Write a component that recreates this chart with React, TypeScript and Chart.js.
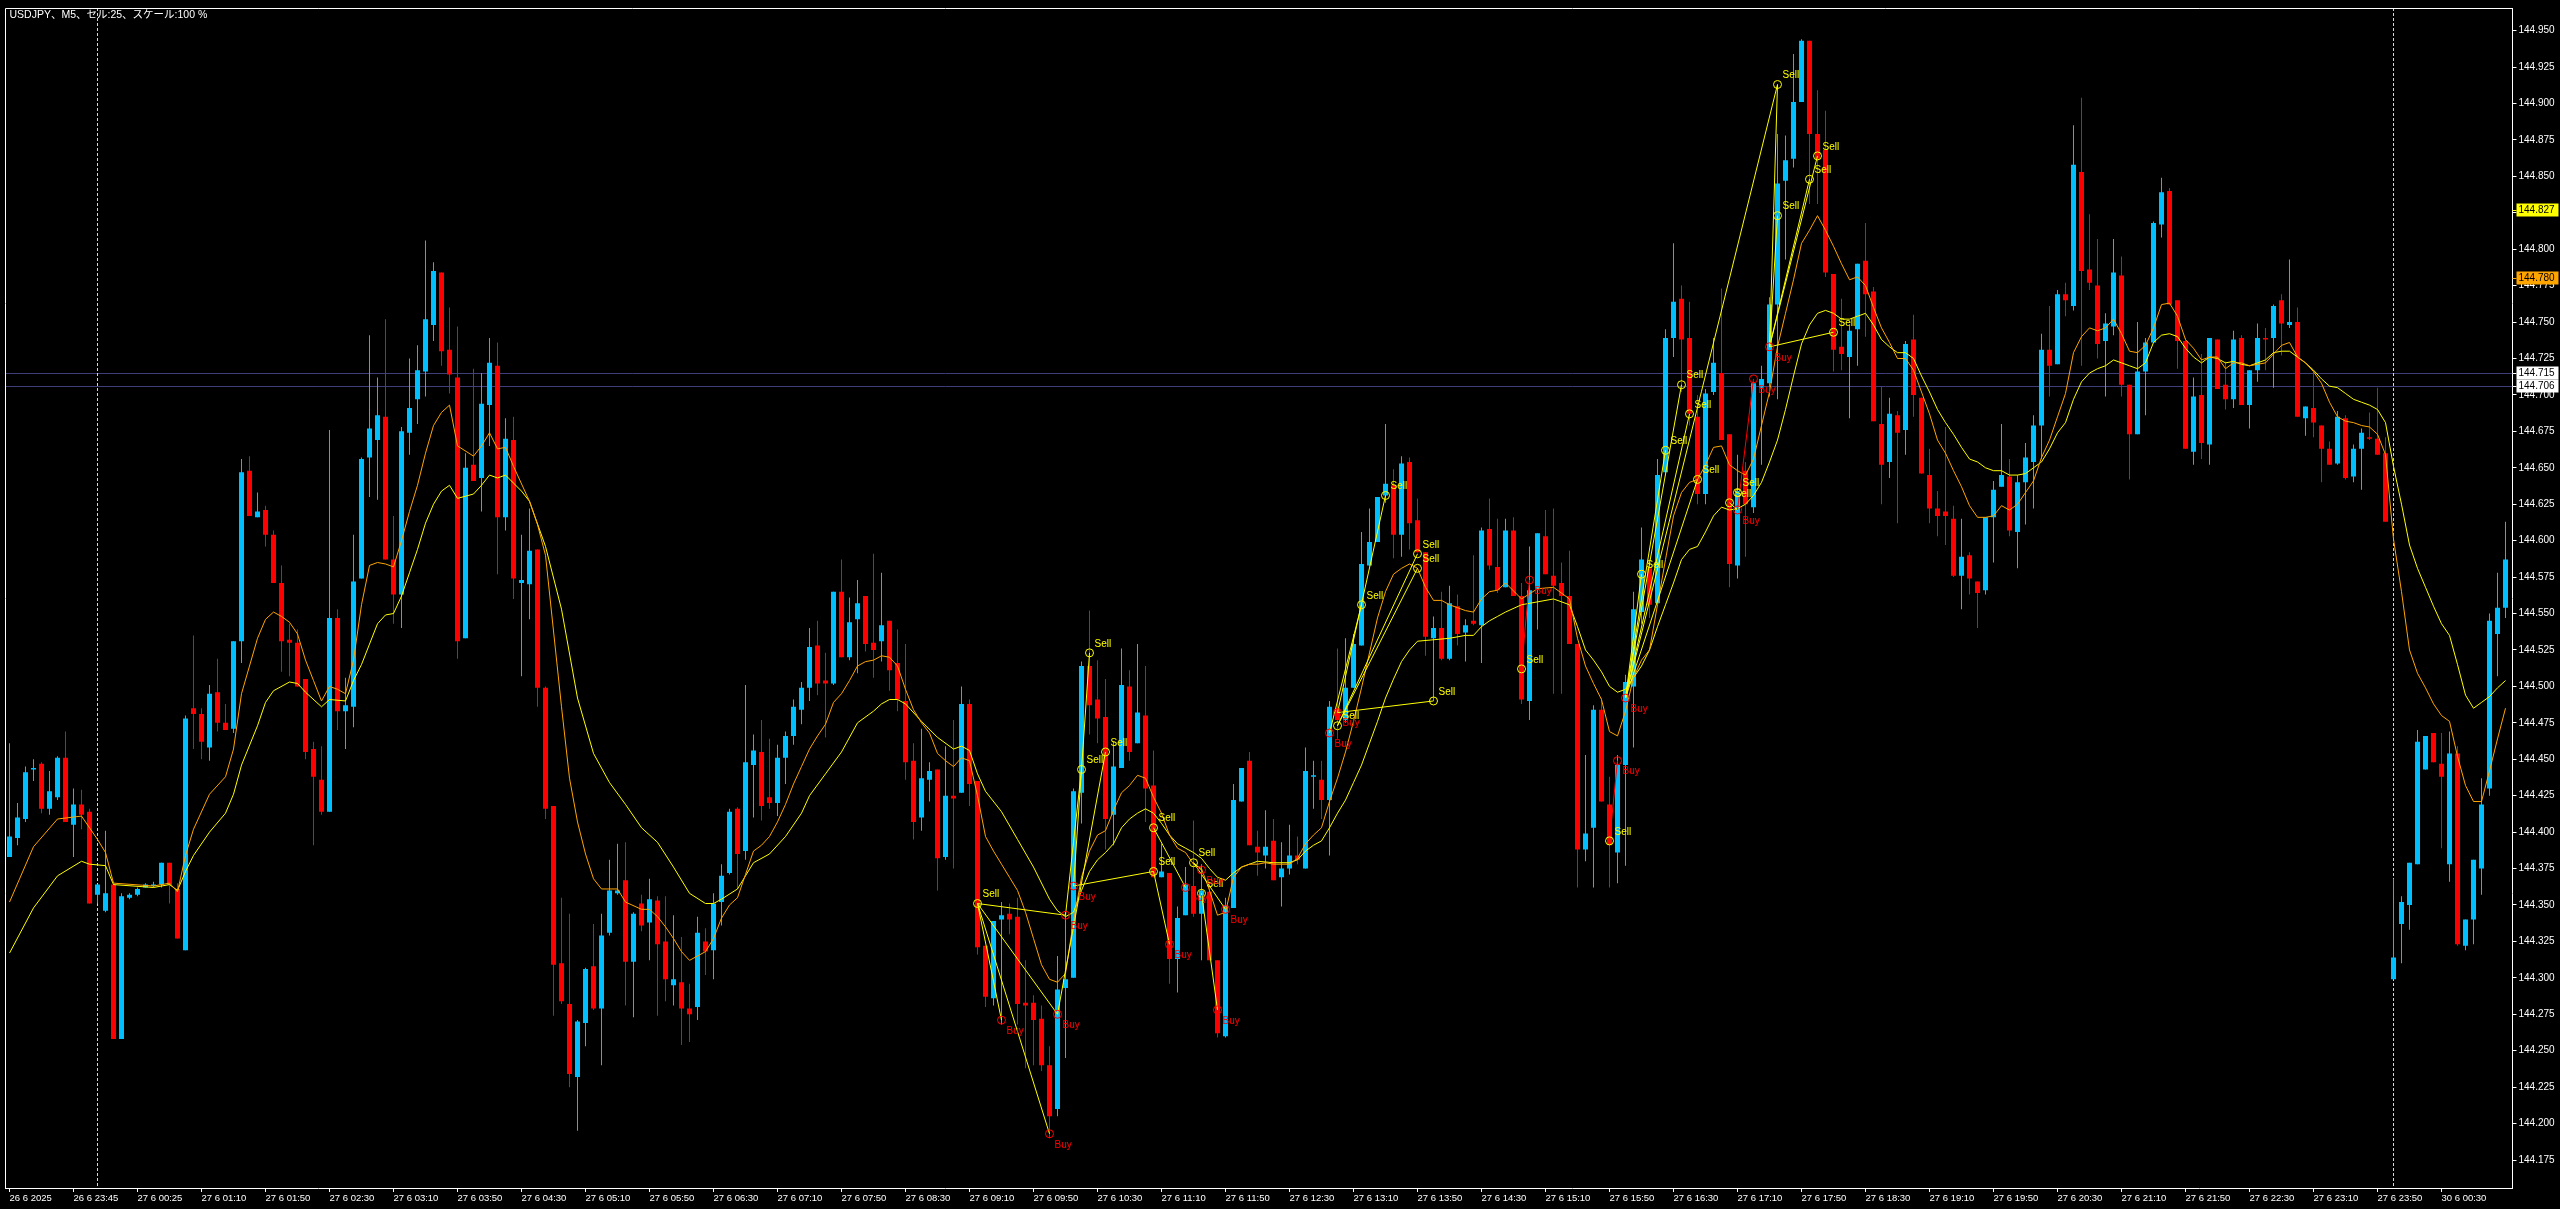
import React, { useEffect, useRef } from "react";
import { Chart, registerables } from "chart.js";

Chart.register(...registerables);

// ---------- data ----------
const opens = [
  144.383,144.396,144.409,144.443,144.447,144.416,144.424,144.451,144.405,144.419,
  144.414,144.357,144.346,144.364,144.258,144.355,144.357,144.362,144.363,144.364,
  144.379,144.361,144.319,144.485,144.481,144.458,144.496,144.475,144.471,144.531,
  144.648,144.616,144.621,144.604,144.571,144.532,144.530,144.505,144.457,144.436,
  144.414,144.547,144.483,144.486,144.574,144.657,144.669,144.685,144.587,144.563,
  144.674,144.697,144.716,144.748,144.784,144.731,144.712,144.533,144.652,144.643,
  144.693,144.720,144.616,144.669,144.571,144.570,144.594,144.499,144.418,144.310,
  144.282,144.232,144.269,144.308,144.279,144.331,144.358,144.367,144.311,144.351,
  144.338,144.353,144.325,144.295,144.297,144.279,144.280,144.325,144.319,144.352,
  144.372,144.416,144.387,144.446,144.455,144.424,144.420,144.451,144.466,144.484,
  144.499,144.528,144.504,144.502,144.565,144.520,144.546,144.562,144.530,144.531,
  144.545,144.516,144.490,144.449,144.410,144.436,144.443,144.383,144.425,144.427,
  144.488,144.435,144.322,144.286,144.340,144.344,144.342,144.283,144.283,144.272,
  144.240,144.210,144.293,144.300,144.427,144.514,144.491,144.479,144.412,144.444,
  144.500,144.461,144.480,144.432,144.369,144.372,144.313,144.343,144.363,144.344,
  144.359,144.312,144.260,144.348,144.421,144.449,144.390,144.384,144.394,144.369,
  144.375,144.384,144.375,144.438,144.436,144.422,144.485,144.477,144.499,144.528,
  144.583,144.599,144.631,144.638,144.604,144.654,144.614,144.592,144.533,144.540,
  144.519,144.555,144.537,144.545,144.542,144.608,144.582,144.568,144.607,144.562,
  144.490,144.567,144.603,144.576,144.571,144.562,144.529,144.388,144.403,144.484,
  144.419,144.386,144.446,144.500,144.551,144.581,144.557,144.647,144.739,144.766,
  144.739,144.685,144.632,144.702,144.715,144.673,144.583,144.648,144.623,144.705,
  144.708,144.762,144.847,144.862,144.901,144.943,144.879,144.868,144.783,144.733,
  144.726,144.745,144.792,144.771,144.680,144.654,144.686,144.676,144.738,144.698,
  144.645,144.622,144.620,144.615,144.576,144.590,144.572,144.566,144.616,144.637,
  144.644,144.606,144.640,144.654,144.679,144.731,144.721,144.769,144.761,144.853,
  144.786,144.775,144.737,144.747,144.782,144.707,144.673,144.716,144.736,144.817,
  144.840,144.765,144.737,144.661,144.700,144.666,144.738,144.707,144.697,144.739,
  144.693,144.717,144.739,144.739,144.765,144.748,144.750,144.684,144.691,144.679,
  144.663,144.653,144.684,144.644,144.663,144.671,144.670,144.660,144.299,144.337,
  144.350,144.378,144.443,144.468,144.447,144.378,144.454,144.322,144.340,144.375,
  144.430,144.536,144.554,
];

const highs = [
  144.461,144.420,144.445,144.450,144.448,144.442,144.452,144.469,144.430,144.429,
  144.416,144.364,144.401,144.364,144.358,144.358,144.362,144.365,144.366,144.379,
  144.379,144.365,144.480,144.535,144.485,144.501,144.519,144.488,144.531,144.656,
  144.658,144.633,144.624,144.607,144.583,144.543,144.539,144.505,144.462,144.459,
  144.676,144.553,144.506,144.604,144.657,144.741,144.712,144.752,144.617,144.678,
  144.725,144.734,144.806,144.791,144.784,144.760,144.747,144.660,144.718,144.715,
  144.739,144.736,144.684,144.685,144.604,144.622,144.594,144.500,144.418,144.355,
  144.344,144.271,144.307,144.337,144.344,144.381,144.392,144.393,144.345,144.357,
  144.368,144.356,144.356,144.343,144.328,144.296,144.342,144.334,144.358,144.378,
  144.416,144.417,144.501,144.467,144.477,144.464,144.460,144.469,144.491,144.503,
  144.540,144.545,144.523,144.565,144.587,144.561,144.573,144.562,144.591,144.578,
  144.545,144.539,144.529,144.461,144.471,144.448,144.443,144.459,144.477,144.500,
  144.491,144.435,144.322,144.339,144.352,144.351,144.355,144.312,144.288,144.281,
  144.253,144.315,144.345,144.430,144.517,144.552,144.518,144.505,144.462,144.526,
  144.511,144.529,144.514,144.456,144.392,144.372,144.349,144.376,144.408,144.378,
  144.366,144.312,144.355,144.433,144.444,144.455,144.401,144.415,144.409,144.393,
  144.405,144.397,144.458,144.449,144.449,144.490,144.526,144.533,144.536,144.606,
  144.622,144.630,144.680,144.649,144.658,144.657,144.629,144.592,144.548,144.565,
  144.569,144.563,144.546,144.590,144.609,144.629,144.615,144.615,144.616,144.571,
  144.596,144.605,144.621,144.622,144.585,144.593,144.529,144.453,144.487,144.492,
  144.438,144.453,144.508,144.565,144.609,144.587,144.656,144.745,144.804,144.775,
  144.764,144.700,144.704,144.739,144.773,144.673,144.659,144.654,144.709,144.720,
  144.767,144.879,144.878,144.934,144.944,144.943,144.909,144.895,144.783,144.766,
  144.748,144.790,144.818,144.774,144.706,144.698,144.689,144.737,144.755,144.698,
  144.663,144.634,144.678,144.624,144.615,144.592,144.572,144.616,144.641,144.680,
  144.656,144.645,144.667,144.686,144.742,144.761,144.772,144.777,144.885,144.904,
  144.824,144.807,144.756,144.807,144.795,144.707,144.750,144.739,144.819,144.849,
  144.842,144.765,144.739,144.712,144.728,144.739,144.738,144.723,144.744,144.741,
  144.717,144.749,144.746,144.762,144.769,144.793,144.760,144.692,144.716,144.679,
  144.668,144.689,144.686,144.666,144.677,144.688,144.705,144.671,144.368,144.356,
  144.379,144.470,144.466,144.468,144.468,144.469,144.459,144.340,144.381,144.437,
  144.550,144.578,144.613,
];

const lows = [
  144.383,144.391,144.407,144.435,144.413,144.412,144.422,144.407,144.383,144.402,
  144.351,144.351,144.345,144.258,144.258,144.354,144.356,144.362,144.362,144.362,
  144.351,144.327,144.319,144.457,144.450,144.449,144.469,144.470,144.468,144.516,
  144.617,144.616,144.596,144.571,144.510,144.507,144.500,144.450,144.391,144.412,
  144.414,144.470,144.457,144.472,144.574,144.630,144.628,144.587,144.543,144.540,
  144.659,144.680,144.699,144.737,144.720,144.701,144.519,144.533,144.641,144.620,
  144.665,144.577,144.607,144.560,144.507,144.546,144.486,144.409,144.274,144.282,
  144.225,144.195,144.253,144.278,144.240,144.329,144.357,144.281,144.273,144.332,
  144.312,144.274,144.284,144.281,144.254,144.256,144.271,144.302,144.299,144.336,
  144.371,144.361,144.381,144.410,144.408,144.416,144.411,144.433,144.460,144.474,
  144.490,144.494,144.465,144.501,144.520,144.518,144.509,144.524,144.506,144.517,
  144.497,144.483,144.436,144.395,144.401,144.421,144.360,144.381,144.375,144.427,
  144.418,144.316,144.280,144.281,144.268,144.330,144.268,144.238,144.240,144.236,
  144.190,144.205,144.245,144.300,144.406,144.467,144.461,144.388,144.391,144.444,
  144.449,144.461,144.407,144.369,144.369,144.296,144.290,144.343,144.342,144.312,
  144.312,144.259,144.259,144.348,144.421,144.391,144.370,144.375,144.367,144.349,
  144.371,144.378,144.375,144.416,144.409,144.384,144.464,144.475,144.499,144.528,
  144.583,144.599,144.626,144.588,144.589,144.594,144.592,144.521,144.490,144.518,
  144.518,144.528,144.517,144.542,144.516,144.580,144.564,144.568,144.562,144.488,
  144.477,144.539,144.577,144.495,144.495,144.529,144.362,144.380,144.362,144.421,
  144.362,144.365,144.377,144.458,144.543,144.547,144.557,144.647,144.726,144.702,
  144.679,144.625,144.625,144.700,144.669,144.568,144.574,144.589,144.619,144.652,
  144.699,144.697,144.793,144.856,144.901,144.831,144.831,144.781,144.716,144.717,
  144.684,144.720,144.740,144.682,144.625,144.643,144.612,144.659,144.685,144.646,
  144.612,144.603,144.597,144.575,144.553,144.563,144.540,144.563,144.585,144.637,
  144.603,144.581,144.611,144.622,144.656,144.699,144.721,144.754,144.758,144.720,
  144.772,144.725,144.699,144.741,144.699,144.642,144.673,144.686,144.736,144.808,
  144.762,144.718,144.663,144.652,144.656,144.652,144.704,144.690,144.691,144.693,
  144.677,144.709,144.717,144.705,144.727,144.746,144.685,144.672,144.671,144.640,
  144.652,144.652,144.642,144.640,144.635,144.669,144.659,144.613,144.299,144.310,
  144.333,144.378,144.443,144.448,144.389,144.366,144.322,144.319,144.323,144.357,
  144.425,144.507,144.547,
];

const closes = [
  144.397,144.410,144.441,144.444,144.416,144.428,144.451,144.407,144.419,144.412,
  144.351,144.364,144.358,144.258,144.356,144.357,144.361,144.364,144.364,144.379,
  144.364,144.327,144.478,144.481,144.462,144.495,144.475,144.470,144.531,144.647,
  144.617,144.620,144.604,144.571,144.531,144.530,144.500,144.455,144.438,144.414,
  144.547,144.483,144.487,144.572,144.656,144.677,144.686,144.587,144.563,144.675,
  144.691,144.717,144.752,144.785,144.730,144.714,144.531,144.650,144.641,144.694,
  144.722,144.616,144.670,144.574,144.573,144.593,144.499,144.416,144.309,144.284,
  144.234,144.270,144.306,144.279,144.329,144.360,144.360,144.311,144.344,144.336,
  144.354,144.323,144.299,144.299,144.279,144.275,144.331,144.318,144.351,144.370,
  144.414,144.385,144.448,144.456,144.418,144.420,144.451,144.466,144.486,144.499,
  144.527,144.502,144.502,144.565,144.520,144.544,144.557,144.529,144.525,144.542,
  144.511,144.491,144.448,144.407,144.437,144.442,144.382,144.425,144.423,144.488,
  144.433,144.321,144.287,144.339,144.343,144.340,144.282,144.281,144.271,144.240,
  144.205,144.292,144.299,144.428,144.514,144.487,144.478,144.409,144.445,144.501,
  144.455,144.482,144.430,144.369,144.373,144.313,144.341,144.364,144.344,144.360,
  144.312,144.262,144.350,144.422,144.444,144.391,144.386,144.390,144.367,144.375,
  144.384,144.381,144.442,144.439,144.422,144.486,144.477,144.499,144.529,144.584,
  144.599,144.630,144.639,144.604,144.653,144.612,144.592,144.534,144.540,144.519,
  144.557,144.536,144.542,144.543,144.607,144.583,144.566,144.607,144.562,144.491,
  144.566,144.605,144.577,144.569,144.562,144.529,144.388,144.399,144.484,144.421,
  144.391,144.446,144.503,144.553,144.587,144.556,144.645,144.739,144.764,144.738,
  144.687,144.632,144.701,144.722,144.669,144.584,144.634,144.625,144.708,144.711,
  144.762,144.845,144.861,144.901,144.943,144.879,144.862,144.784,144.731,144.728,
  144.744,144.790,144.769,144.682,144.652,144.687,144.674,144.735,144.700,144.646,
  144.622,144.617,144.617,144.576,144.589,144.574,144.564,144.616,144.635,144.645,
  144.607,144.640,144.657,144.679,144.731,144.720,144.769,144.765,144.858,144.785,
  144.777,144.735,144.749,144.784,144.707,144.673,144.716,144.736,144.818,144.839,
  144.762,144.737,144.663,144.699,144.667,144.739,144.704,144.697,144.738,144.693,
  144.717,144.739,144.738,144.761,144.749,144.750,144.685,144.692,144.681,144.663,
  144.652,144.685,144.643,144.663,144.674,144.670,144.659,144.613,144.314,144.352,
  144.379,144.462,144.466,144.448,144.438,144.454,144.323,144.340,144.381,144.419,
  144.545,144.554,144.587,
];

// fast moving average (orange), [bar, value]
const fastMA: [number, number][] = [
  [0,144.352],[3,144.390],[6,144.409],[9,144.411],[11,144.395],[12,144.386],[13,144.365],[18,144.363],[20,144.365],[21,144.359],
  [22,144.384],[23,144.402],[25,144.426],[27,144.438],[28,144.457],[29,144.495],[31,144.533],[32,144.546],[33,144.551],[34,144.548],
  [35,144.544],[36,144.536],[37,144.518],[38,144.504],[39,144.490],[40,144.500],[41,144.498],[42,144.495],[43,144.518],[44,144.556],
  [45,144.583],[46,144.585],[47,144.584],[48,144.582],[49,144.600],[50,144.620],[51,144.638],[52,144.660],[53,144.679],[54,144.688],
  [55,144.693],[56,144.665],[58,144.658],[59,144.665],[60,144.674],[61,144.663],[62,144.664],[63,144.651],[65,144.627],[66,144.611],
  [67,144.590],[68,144.538],[69,144.486],[70,144.437],[71,144.407],[72,144.385],[73,144.368],[74,144.361],[76,144.361],[77,144.352],
  [79,144.347],[80,144.347],[81,144.342],[82,144.335],[83,144.327],[84,144.318],[85,144.312],[86,144.315],[87,144.318],[88,144.327],
  [89,144.341],[90,144.350],[91,144.355],[92,144.371],[93,144.387],[94,144.391],[95,144.397],[96,144.407],[97,144.419],[98,144.433],
  [99,144.445],[100,144.457],[101,144.466],[102,144.474],[103,144.489],[104,144.495],[105,144.504],[106,144.514],[107,144.517],[108,144.518],
  [109,144.521],[110,144.520],[111,144.514],[112,144.498],[113,144.484],[114,144.475],[115,144.468],[116,144.454],[117,144.449],[118,144.445],
  [119,144.451],[120,144.449],[121,144.425],[122,144.397],[123,144.387],[124,144.378],[125,144.369],[126,144.360],[127,144.345],[128,144.327],
  [129,144.309],[130,144.299],[131,144.297],[132,144.303],[133,144.339],[134,144.369],[135,144.387],[136,144.398],[137,144.401],[138,144.415],
  [139,144.427],[140,144.432],[141,144.439],[142,144.437],[143,144.424],[144,144.413],[145,144.398],[146,144.389],[147,144.386],[148,144.378],
  [149,144.375],[150,144.360],[151,144.343],[152,144.345],[153,144.369],[154,144.376],[155,144.378],[156,144.378],[157,144.379],[158,144.378],
  [160,144.378],[161,144.382],[162,144.392],[163,144.398],[164,144.403],[165,144.421],[166,144.437],[167,144.455],[168,144.476],[169,144.499],
  [170,144.523],[171,144.547],[172,144.565],[173,144.577],[174,144.581],[175,144.584],[176,144.581],[177,144.568],[178,144.559],[179,144.559],
  [180,144.556],[181,144.554],[182,144.552],[183,144.551],[184,144.560],[185,144.565],[186,144.566],[187,144.571],[189,144.560],[191,144.567],
  [193,144.568],[195,144.560],[196,144.533],[197,144.514],[198,144.502],[199,144.491],[200,144.469],[201,144.466],[202,144.483],[203,144.506],
  [204,144.518],[205,144.525],[206,144.556],[207,144.587],[208,144.617],[209,144.633],[210,144.640],[211,144.642],[212,144.652],[213,144.664],
  [214,144.665],[215,144.652],[216,144.648],[217,144.645],[218,144.656],[219,144.679],[220,144.702],[221,144.733],[222,144.756],[223,144.779],
  [224,144.804],[225,144.813],[226,144.823],[227,144.813],[228,144.802],[229,144.790],[230,144.779],[231,144.781],[232,144.775],[233,144.760],
  [234,144.746],[235,144.736],[236,144.725],[237,144.725],[238,144.717],[239,144.702],[240,144.687],[241,144.669],[242,144.660],[243,144.648],
  [244,144.637],[245,144.624],[246,144.616],[247,144.616],[248,144.617],[249,144.624],[250,144.621],[251,144.625],[252,144.633],[253,144.641],
  [254,144.657],[255,144.669],[256,144.685],[257,144.701],[258,144.729],[259,144.740],[260,144.746],[261,144.744],[262,144.746],[263,144.752],
  [264,144.742],[265,144.730],[266,144.729],[267,144.734],[268,144.746],[269,144.762],[270,144.763],[271,144.754],[272,144.738],[273,144.732],
  [274,144.724],[275,144.726],[276,144.726],[277,144.718],[278,144.722],[279,144.722],[280,144.720],[281,144.721],[282,144.722],[283,144.728],
  [284,144.734],[285,144.736],[286,144.726],[287,144.722],[288,144.716],[289,144.708],[290,144.695],[291,144.685],[292,144.682],[293,144.681],
  [294,144.679],[295,144.678],[296,144.673],[297,144.659],[298,144.601],[299,144.565],[300,144.525],[301,144.509],[302,144.499],[303,144.488],
  [304,144.480],[305,144.476],[306,144.452],[307,144.432],[308,144.421],[309,144.421],[310,144.442],[311,144.464],[312,144.485],
];

// slow moving average (yellow), [bar, value]
const slowMA: [number, number][] = [
  [0,144.317],[3,144.348],[6,144.370],[9,144.380],[10,144.378],[12,144.377],[13,144.364],[18,144.362],[20,144.364],[21,144.360],
  [22,144.373],[23,144.384],[25,144.400],[27,144.413],[28,144.426],[29,144.446],[31,144.473],[32,144.489],[33,144.497],[35,144.503],
  [36,144.502],[37,144.496],[39,144.486],[40,144.491],[42,144.490],[43,144.504],[44,144.515],[45,144.529],[46,144.543],[47,144.549],
  [48,144.550],[49,144.562],[50,144.578],[51,144.594],[52,144.612],[53,144.625],[54,144.634],[55,144.638],[56,144.629],[58,144.632],
  [59,144.638],[60,144.645],[61,144.643],[62,144.645],[64,144.634],[65,144.627],[67,144.596],[69,144.553],[71,144.492],[73,144.454],
  [75,144.434],[77,144.419],[79,144.403],[81,144.393],[83,144.376],[85,144.358],[87,144.351],[88,144.351],[89,144.354],[91,144.361],
  [92,144.370],[93,144.379],[95,144.385],[97,144.397],[99,144.413],[100,144.425],[102,144.440],[104,144.455],[106,144.475],[108,144.483],
  [109,144.488],[110,144.491],[111,144.491],[112,144.488],[114,144.476],[116,144.465],[118,144.457],[119,144.459],[120,144.456],[121,144.440],
  [122,144.428],[124,144.414],[126,144.395],[128,144.376],[130,144.354],[131,144.346],[132,144.342],[133,144.345],[134,144.360],[135,144.373],
  [136,144.381],[137,144.386],[138,144.392],[139,144.403],[140,144.409],[141,144.413],[142,144.416],[143,144.413],[144,144.406],[145,144.398],
  [146,144.392],[147,144.389],[148,144.386],[149,144.382],[150,144.375],[151,144.369],[152,144.367],[153,144.372],[154,144.376],[156,144.380],
  [158,144.379],[160,144.379],[161,144.381],[162,144.387],[163,144.391],[164,144.394],[165,144.403],[166,144.413],[167,144.422],[168,144.434],
  [169,144.446],[170,144.461],[171,144.476],[172,144.492],[173,144.505],[174,144.517],[175,144.525],[176,144.531],[178,144.532],[180,144.533],
  [182,144.535],[183,144.535],[184,144.541],[185,144.545],[186,144.548],[187,144.551],[189,144.556],[191,144.558],[193,144.560],[195,144.556],
  [196,144.541],[197,144.525],[198,144.518],[199,144.510],[200,144.500],[201,144.496],[202,144.498],[203,144.506],[204,144.514],[205,144.525],
  [206,144.541],[207,144.556],[208,144.571],[209,144.587],[210,144.594],[211,144.596],[212,144.606],[213,144.617],[214,144.623],[215,144.621],
  [216,144.622],[217,144.625],[218,144.631],[219,144.640],[220,144.654],[221,144.669],[222,144.690],[223,144.713],[224,144.735],[225,144.748],
  [226,144.756],[227,144.758],[228,144.756],[229,144.752],[230,144.752],[231,144.754],[232,144.756],[233,144.748],[234,144.738],[235,144.733],
  [236,144.729],[237,144.729],[238,144.725],[239,144.713],[240,144.702],[241,144.690],[242,144.681],[243,144.673],[244,144.664],[245,144.656],
  [246,144.654],[247,144.650],[248,144.648],[249,144.648],[250,144.645],[251,144.645],[252,144.646],[253,144.650],[254,144.654],[255,144.663],
  [256,144.674],[257,144.681],[258,144.697],[259,144.709],[260,144.715],[261,144.718],[262,144.720],[263,144.724],[264,144.722],[265,144.720],
  [266,144.718],[267,144.722],[268,144.736],[269,144.741],[270,144.742],[271,144.740],[272,144.732],[273,144.726],[274,144.722],[275,144.726],
  [276,144.725],[277,144.722],[278,144.723],[279,144.721],[280,144.720],[281,144.722],[282,144.724],[283,144.729],[284,144.730],[285,144.730],
  [286,144.726],[287,144.722],[288,144.717],[289,144.711],[290,144.706],[291,144.705],[292,144.701],[293,144.697],[294,144.695],[295,144.693],
  [296,144.690],[297,144.681],[298,144.651],[299,144.625],[300,144.597],[301,144.581],[302,144.568],[303,144.555],[304,144.543],[305,144.535],
  [306,144.515],[307,144.494],[308,144.485],[309,144.489],[310,144.493],[311,144.499],[312,144.504],
];

// trade markers [bar, price]
const sellMarks: [number, number][] = [
  [121,144.351],[134,144.443],[135,144.523],[137,144.455],[143,144.403],[143,144.373],[148,144.379],[149,144.358],
  [166,144.473],[169,144.556],[172,144.631],[176,144.591],[176,144.581],[178,144.490],
  [189,144.512],[200,144.394],[204,144.577],[207,144.662],[209,144.707],[210,144.687],[211,144.642],
  [215,144.626],[216,144.633],[221,144.913],[221,144.823],[225,144.848],[226,144.864],[228,144.743],
];
const buyMarks: [number, number][] = [
  [124,144.271],[130,144.193],[131,144.275],[132,144.343],[133,144.363],[145,144.323],[147,144.362],[149,144.374],
  [151,144.278],[152,144.347],[165,144.468],[166,144.482],[190,144.573],[201,144.449],[202,144.492],
  [216,144.621],[218,144.711],[220,144.733],
];
// trade connection lines [bar1, price1, bar2, price2, colour]
const tradeLines: [number, number, number, number, string][] = [
  [121,144.351,124,144.271,"Y"],[121,144.351,130,144.193,"Y"],[121,144.351,131,144.275,"Y"],[121,144.351,132,144.343,"Y"],
  [132,144.343,134,144.443,"Y"],[133,144.363,135,144.523,"Y"],[131,144.275,137,144.455,"Y"],[133,144.363,143,144.373,"Y"],
  [143,144.373,145,144.323,"Y"],[143,144.403,147,144.362,"Y"],[148,144.379,149,144.374,"Y"],[149,144.358,151,144.278,"Y"],
  [148,144.379,152,144.347,"Y"],[165,144.468,169,144.556,"Y"],[166,144.482,172,144.631,"Y"],[166,144.473,176,144.591,"Y"],
  [166,144.473,176,144.581,"Y"],[166,144.482,178,144.490,"Y"],[189,144.512,190,144.573,"R"],[200,144.394,201,144.449,"R"],
  [202,144.492,204,144.577,"Y"],[202,144.492,207,144.662,"Y"],[202,144.492,209,144.707,"Y"],[202,144.492,210,144.687,"Y"],
  [202,144.492,211,144.642,"Y"],[202,144.492,221,144.913,"Y"],[215,144.626,216,144.621,"Y"],[216,144.621,218,144.711,"R"],
  [220,144.733,221,144.913,"Y"],[220,144.733,221,144.823,"Y"],[220,144.733,225,144.848,"Y"],[220,144.733,226,144.864,"Y"],
  [220,144.733,228,144.743,"Y"],
];

const timeLabels = [
  "26 6 2025","26 6 23:45","27 6 00:25","27 6 01:10","27 6 01:50","27 6 02:30","27 6 03:10","27 6 03:50",
  "27 6 04:30","27 6 05:10","27 6 05:50","27 6 06:30","27 6 07:10","27 6 07:50","27 6 08:30","27 6 09:10",
  "27 6 09:50","27 6 10:30","27 6 11:10","27 6 11:50","27 6 12:30","27 6 13:10","27 6 13:50","27 6 14:30",
  "27 6 15:10","27 6 15:50","27 6 16:30","27 6 17:10","27 6 17:50","27 6 18:30","27 6 19:10","27 6 19:50",
  "27 6 20:30","27 6 21:10","27 6 21:50","27 6 22:30","27 6 23:10","27 6 23:50","30 6 00:30",
];
const timeTickBars = timeLabels.map((_, k) => k * 8);

const priceTicks = [
  144.175,144.2,144.225,144.25,144.275,144.3,144.325,144.35,144.375,144.4,144.425,144.45,144.475,144.5,144.525,144.55,
  144.575,144.6,144.625,144.65,144.675,144.7,144.725,144.75,144.775,144.8,144.825,144.85,144.875,144.9,144.925,144.95,
];
const priceMin = 144.1558;
const priceMax = 144.9655;
const barMin = -0.5;
const barMax = 312.875;

const daySeparatorBars = [11, 298];
const hLineValues = [144.715, 144.706];
const axisMarkValues = [144.827, 144.78, 144.715, 144.706];
const axisMarkColors = ["#ffff00", "#ffa500", "#ffffff", "#ffffff"];
const headerText = "USDJPY、M5、セル:25、スケール:100 %";

// ---------- styles ----------
const BLUE = "#00bfff";
const RED = "#ff0000";
const YELLOW = "#ffff00";
const ORANGE = "#ffa500";
const FONT = '"Liberation Sans", Arial, "Noto Sans CJK JP", sans-serif';

const overlayPlugin = {
  id: "mtOverlay",
  beforeDatasetsDraw(chart: any) {
    const { ctx, chartArea: a, scales } = chart;
    const x = scales.x, y = scales.y;
    ctx.save();
    ctx.lineWidth = 1;
    ctx.strokeStyle = "#3e3e78";
    hLineValues.forEach((v) => {
      const py = Math.floor(y.getPixelForValue(v)) + 0.5;
      ctx.beginPath(); ctx.moveTo(a.left, py); ctx.lineTo(a.right, py); ctx.stroke();
    });
    ctx.strokeStyle = "#d8d8d8";
    ctx.setLineDash([3, 2]);
    daySeparatorBars.forEach((b) => {
      const px = Math.floor(x.getPixelForValue(b)) + 0.5;
      ctx.beginPath(); ctx.moveTo(px, a.top); ctx.lineTo(px, a.bottom); ctx.stroke();
    });
    ctx.restore();
  },
  afterDatasetsDraw(chart: any) {
    const { ctx } = chart;
    ctx.save();
    ctx.font = `10px ${FONT}`;
    ctx.textBaseline = "middle";
    ctx.textAlign = "left";
    const sm = chart.getDatasetMeta(0);
    ctx.fillStyle = YELLOW;
    sm.data.forEach((el: any) => ctx.fillText("Sell", el.x + 5, el.y - 9));
    const bm = chart.getDatasetMeta(1);
    ctx.fillStyle = RED;
    bm.data.forEach((el: any) => ctx.fillText("Buy", el.x + 5, el.y + 11));
    ctx.restore();
  },
  afterDraw(chart: any) {
    const { ctx, chartArea: a, scales } = chart;
    const y = scales.y;
    ctx.save();
    ctx.strokeStyle = "#ffffff";
    ctx.lineWidth = 1;
    ctx.beginPath();
    ctx.moveTo(a.left, a.bottom); ctx.lineTo(a.left, a.top + 0.5); ctx.lineTo(a.right, a.top + 0.5);
    ctx.stroke();
    ctx.fillStyle = "#ffffff";
    ctx.font = `10.5px ${FONT}`;
    ctx.textBaseline = "alphabetic";
    ctx.textAlign = "left";
    ctx.fillText(headerText, a.left + 4, 18);
    ctx.font = `10px ${FONT}`;
    axisMarkValues.forEach((v, k) => {
      const py = Math.round(y.getPixelForValue(v));
      ctx.fillStyle = axisMarkColors[k];
      ctx.fillRect(a.right + 4, py - 6.5, 42, 13);
      ctx.fillRect(a.right, py, 4, 1);
      ctx.fillStyle = "#000000";
      ctx.textBaseline = "middle";
      ctx.fillText(v.toFixed(3), a.right + 6, py + 0.5);
    });
    ctx.restore();
  },
};

export default function App() {
  const ref = useRef<HTMLCanvasElement>(null);
  useEffect(() => {
    const canvas = ref.current;
    if (!canvas) return;
    const bars = opens.map((_, i) => i);
    const candleColors = bars.map((i) => (closes[i] >= opens[i] ? BLUE : RED));
    const datasets: any[] = [
      {
        type: "line", label: "Sell", data: sellMarks.map(([i, p]) => ({ x: i, y: p })), showLine: false,
        pointStyle: "circle", pointRadius: 4, pointBorderColor: YELLOW, pointBackgroundColor: "rgba(0,0,0,0)",
        pointBorderWidth: 1, order: 0,
      },
      {
        type: "line", label: "Buy", data: buyMarks.map(([i, p]) => ({ x: i, y: p })), showLine: false,
        pointStyle: "circle", pointRadius: 4, pointBorderColor: RED, pointBackgroundColor: "rgba(0,0,0,0)",
        pointBorderWidth: 1, order: 0,
      },
      ...tradeLines.map(([i1, p1, i2, p2, c]) => ({
        type: "line", data: [{ x: i1, y: p1 }, { x: i2, y: p2 }], borderColor: c === "R" ? RED : YELLOW,
        borderWidth: 1, pointRadius: 0, order: 1,
      })),
      {
        type: "line", label: "MA fast", data: fastMA.map(([i, v]) => ({ x: i, y: v })), borderColor: ORANGE,
        borderWidth: 1, pointRadius: 0, tension: 0, order: 2,
      },
      {
        type: "line", label: "MA slow", data: slowMA.map(([i, v]) => ({ x: i, y: v })), borderColor: YELLOW,
        borderWidth: 1, pointRadius: 0, tension: 0, order: 2,
      },
      {
        type: "bar", label: "body", data: bars.map((i) => ({ x: i, y: [opens[i], closes[i]] })),
        backgroundColor: candleColors, barThickness: 5, grouped: false, minBarLength: 1, inflateAmount: 0,
        borderWidth: 0, order: 3,
      },
      {
        type: "bar", label: "wick", data: bars.map((i) => ({ x: i, y: [lows[i], highs[i]] })),
        backgroundColor: candleColors, barThickness: 1, grouped: false, minBarLength: 1, inflateAmount: 0,
        borderWidth: 0, order: 4,
      },
    ];
    const chart = new Chart(canvas, {
      type: "bar",
      data: { datasets },
      plugins: [overlayPlugin],
      options: {
        animation: false,
        responsive: false,
        devicePixelRatio: 1,
        events: [],
        layout: { padding: { left: 5.5, top: 5, right: 0, bottom: 0 } },
        plugins: { legend: { display: false }, tooltip: { enabled: false }, title: { display: false } },
        scales: {
          x: {
            type: "linear", min: barMin, max: barMax, offset: false, bounds: "data",
            grid: { display: true, drawOnChartArea: false, drawTicks: true, tickLength: 4, color: "#ffffff", offset: false },
            border: { display: true, color: "#ffffff", width: 1 },
            ticks: {
              autoSkip: false, maxRotation: 0, minRotation: 0, align: "start", padding: 1, color: "#ffffff",
              font: { family: FONT, size: 9.5 },
              callback: (_v: any, index: number) => timeLabels[index],
            },
            afterBuildTicks: (s: any) => { s.ticks = timeTickBars.map((v) => ({ value: v })); },
            afterFit: (s: any) => { s.height = 21; },
          },
          y: {
            type: "linear", position: "right", min: priceMin, max: priceMax, bounds: "data",
            grid: { display: true, drawOnChartArea: false, drawTicks: true, tickLength: 4, color: "#ffffff" },
            border: { display: true, color: "#ffffff", width: 1 },
            ticks: {
              padding: 2, color: "#ffffff", font: { family: FONT, size: 10 },
              callback: (v: any) => Number(v).toFixed(3),
            },
            afterBuildTicks: (s: any) => { s.ticks = priceTicks.map((v) => ({ value: v })); },
            afterFit: (s: any) => { s.width = 47.5; },
          },
        },
      } as any,
    } as any);
    return () => chart.destroy();
  }, []);
  return (
    <div style={{ position: "fixed", left: 0, top: 0, width: 2560, height: 1209, background: "#000", overflow: "hidden" }}>
      <canvas ref={ref} width={2560} height={1209} style={{ display: "block", width: 2560, height: 1209 }} />
    </div>
  );
}
